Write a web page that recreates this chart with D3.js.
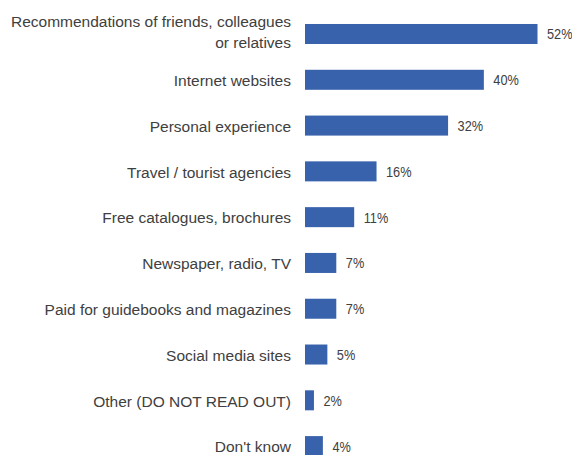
<!DOCTYPE html>
<html>
<head>
<meta charset="utf-8">
<script src="https://cdn.jsdelivr.net/npm/d3@7/dist/d3.min.js"></script>
<style>
  html, body { margin: 0; padding: 0; background: #fff; }
  svg { display: block; }
</style>
</head>
<body>
<svg id="chart" width="572" height="455"></svg>
<script>
// Sources of information used when planning a trip (share of respondents)
const categories = [
  ["Recommendations of friends, colleagues", "or relatives"],
  ["Internet websites"],
  ["Personal experience"],
  ["Travel / tourist agencies"],
  ["Free catalogues, brochures"],
  ["Newspaper, radio, TV"],
  ["Paid for guidebooks and magazines"],
  ["Social media sites"],
  ["Other (DO NOT READ OUT)"],
  ["Don't know"]
];
const values = [52, 40, 32, 16, 11, 7, 7, 5, 2, 4];
const valueLabels = values.map(v => v + "%");

const svg = d3.select("#chart");
const barColor = "#3862ac";
const textColor = "#404040";

const y = d3.scaleBand()
  .domain(d3.range(categories.length))
  .range([11.1, 469])
  .paddingInner(0.563)
  .paddingOuter(0.2815);

const x = d3.scaleLinear()
  .domain([0, 52])
  .range([305, 537.5]);

const rows = svg.selectAll("g.row")
  .data(values)
  .join("g")
  .attr("class", "row");

// bars
rows.append("rect")
  .attr("x", x(0))
  .attr("y", (d, i) => y(i))
  .attr("width", d => x(d) - x(0))
  .attr("height", y.bandwidth())
  .attr("fill", barColor);

// value labels, set in a condensed face
rows.append("text")
  .attr("transform", (d, i) =>
    `translate(${x(d) + 9.5},${y(i) + y.bandwidth() / 2}) scale(0.85,1)`)
  .attr("dy", "0.36em")
  .attr("fill", textColor)
  .style("font-family", "'Liberation Sans', Arial, sans-serif")
  .style("font-size", "15px")
  .text((d, i) => valueLabels[i]);

// category labels (right-aligned, multi-line where needed)
rows.each(function (d, i) {
  const lines = categories[i];
  const lh = 21;
  const cy = y(i) + y.bandwidth() / 2 + (lines.length > 1 ? -1.5 : 0.8);
  const t = d3.select(this).append("text")
    .attr("text-anchor", "end")
    .attr("fill", textColor)
    .style("font-family", "'Liberation Sans', Arial, sans-serif")
    .style("font-size", "15.5px");
  lines.forEach((line, k) => {
    t.append("tspan")
      .attr("x", 291)
      .attr("y", cy + (k - (lines.length - 1) / 2) * lh)
      .attr("dy", "0.35em")
      .text(line);
  });
});
</script>
</body>
</html>
